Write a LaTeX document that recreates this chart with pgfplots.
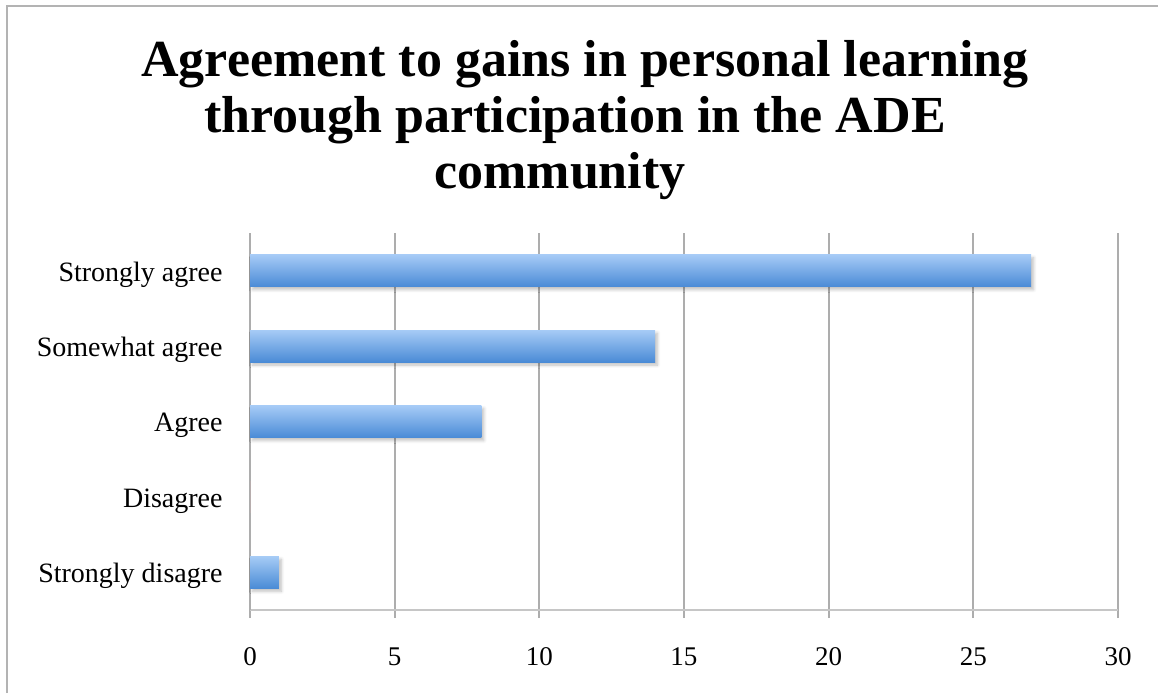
\documentclass[border=0pt]{standalone}
\usepackage{fontspec}
\setmainfont{Liberation Serif}
\usepackage{pgfplots}
\pgfplotsset{compat=1.18}
\usetikzlibrary{shadows.blur}
\definecolor{gridgray}{HTML}{ADADAD}
\definecolor{framegray}{HTML}{B3B3B3}
\definecolor{barlight}{HTML}{A6CBF6}
\definecolor{bardark}{HTML}{4A8BD6}
\begin{document}
\begin{tikzpicture}
\useasboundingbox (0,0) rectangle (579pt,346.5pt);
% frame (cropped chart area)
\draw[framegray, line width=1.3pt] (3.5pt,0) -- (3.5pt,343.5pt) -- (579pt,343.5pt);
% title
\node[anchor=base, font=\bfseries\fontsize{26}{29}\selectfont] at (292.5pt,308.5pt) {Agreement to gains in personal learning};
\node[anchor=base, font=\bfseries\fontsize{26}{29}\selectfont] at (287.5pt,280.5pt) {through participation in the ADE};
\node[anchor=base, font=\bfseries\fontsize{26}{29}\selectfont] at (280pt,252.5pt) {community};
\begin{axis}[
  at={(125pt,41.5pt)}, anchor=south west,
  scale only axis, width=434pt, height=188.5pt,
  xmin=0, xmax=30, ymin=-0.5, ymax=4.5,
  axis x line*=bottom, axis y line*=left,
  x axis line style={draw=gridgray!70, line width=1pt, -},
  y axis line style={draw=gridgray, line width=1pt, -},
  xtick={0,5,...,30},
  ytick={0,1,2,3,4},
  yticklabels={Strongly disagre, Disagree, Agree, Somewhat agree, Strongly agree},
  minor ytick={-0.5,0.5,...,4.5},
  tick align=outside,
  major tick length=4pt,
  ytick style={draw=none},
  minor tick style={draw=gridgray, line width=1pt},
  minor tick length=4pt,
  xtick style={draw=gridgray, line width=1pt},
  xmajorgrids,
  grid style={draw=gridgray, line width=1pt},
  /pgf/number format/assume math mode=true,
  tick label style={font=\fontsize{14}{16}\selectfont},
  xticklabel style={font=\fontsize{13.5}{16}\selectfont},
  yticklabel style={anchor=east, inner sep=0pt, xshift=-9.5pt, yshift=-2pt},
  xticklabel style={anchor=center, inner sep=0pt, yshift=-19.5pt},
  xbar, bar width=16pt, bar shift=0pt,
  every axis plot/.append style={draw=none, top color=barlight, bottom color=bardark},
  myshadow/.style={blur shadow={shadow xshift=1.2pt, shadow yshift=-1.5pt, shadow blur steps=6, shadow opacity=25, shadow blur radius=1.5pt}},
  clip=false,
]
\addplot[myshadow] coordinates {(1,0)};
\addplot coordinates {(0,1)};
\addplot[myshadow] coordinates {(8,2)};
\addplot[myshadow] coordinates {(14,3)};
\addplot[myshadow] coordinates {(27,4)};
\end{axis}
\end{tikzpicture}
\end{document}
